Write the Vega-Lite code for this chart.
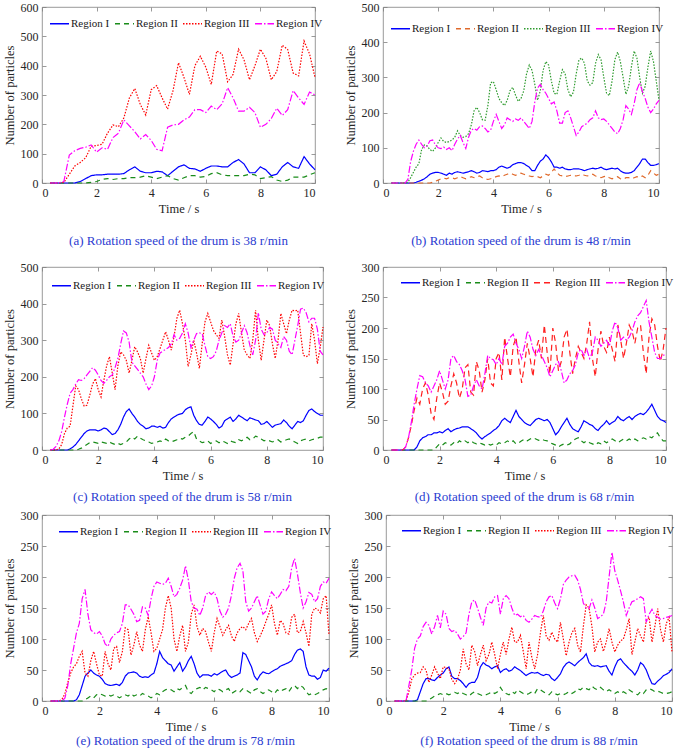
{
"$schema": "https://vega.github.io/schema/vega-lite/v6.json",
"padding": {"left": 2, "top": 0, "right": 0, "bottom": 0},
"background": "white",
"config": {
  "font": "Liberation Serif",
  "view": {"stroke": "#808080", "strokeWidth": 0.8},
  "axis": {"grid": false, "domain": false, "tickColor": "#808080", "tickSize": -4, "tickWidth": 0.8, "labelPadding": 8, "labelFont": "Liberation Serif", "labelFontSize": 12, "labelColor": "#262626", "titleFont": "Liberation Serif", "titleFontSize": 12.5, "titleFontWeight": "normal", "titleColor": "#262626", "titlePadding": 4},
  "legend": {"symbolType": "stroke", "symbolSize": 361, "symbolStrokeWidth": 1.3, "labelFont": "Liberation Serif", "labelFontSize": 11, "labelOffset": 1, "columnPadding": 2, "padding": 0, "labelColor": "#1a1a1a"},
  "title": {"font": "Liberation Serif", "fontSize": 13, "fontWeight": "normal", "color": "#2a3bd1", "orient": "bottom", "anchor": "middle"},
  "concat": {"spacing": 20}
},
"datasets": {
"a": [
{"t":0.3,"I":0,"II":0,"III":0,"IV":0},{"t":0.4,"I":0,"II":0,"III":0,"IV":0},{"t":0.6,"I":0,"II":0,"III":0,"IV":0},{"t":0.8,"I":0,"II":0,"III":2,"IV":5},
{"t":1.0,"I":0,"II":0,"III":30,"IV":95},{"t":1.2,"I":0,"II":0,"III":58,"IV":110},{"t":1.4,"I":5,"II":0,"III":70,"IV":118},{"t":1.6,"I":15,"II":0,"III":86,"IV":122},
{"t":1.8,"I":25,"II":2,"III":125,"IV":130},{"t":2.0,"I":28,"II":5,"III":128,"IV":105},{"t":2.2,"I":28,"II":12,"III":132,"IV":120},{"t":2.4,"I":30,"II":15,"III":170,"IV":115},
{"t":2.6,"I":30,"II":12,"III":198,"IV":155},{"t":2.8,"I":30,"II":15,"III":192,"IV":170},{"t":3.0,"I":32,"II":15,"III":222,"IV":215},{"t":3.2,"I":45,"II":18,"III":290,"IV":195},
{"t":3.4,"I":55,"II":18,"III":322,"IV":175},{"t":3.6,"I":40,"II":20,"III":268,"IV":150},{"t":3.8,"I":35,"II":25,"III":232,"IV":165},{"t":4.0,"I":35,"II":20,"III":318,"IV":145},
{"t":4.2,"I":40,"II":15,"III":332,"IV":115},{"t":4.4,"I":38,"II":20,"III":290,"IV":110},{"t":4.6,"I":25,"II":25,"III":252,"IV":190},{"t":4.8,"I":40,"II":15,"III":315,"IV":198},
{"t":5.0,"I":55,"II":10,"III":410,"IV":200},{"t":5.2,"I":62,"II":18,"III":360,"IV":215},{"t":5.4,"I":50,"II":25,"III":302,"IV":225},{"t":5.6,"I":48,"II":25,"III":400,"IV":250},
{"t":5.8,"I":40,"II":20,"III":432,"IV":250},{"t":6.0,"I":50,"II":22,"III":395,"IV":240},{"t":6.2,"I":58,"II":32,"III":336,"IV":262},{"t":6.4,"I":58,"II":35,"III":450,"IV":250},
{"t":6.6,"I":55,"II":28,"III":440,"IV":270},{"t":6.8,"I":55,"II":25,"III":345,"IV":325},{"t":7.0,"I":70,"II":25,"III":370,"IV":290},{"t":7.2,"I":80,"II":25,"III":456,"IV":245},
{"t":7.4,"I":65,"II":25,"III":420,"IV":245},{"t":7.6,"I":35,"II":30,"III":352,"IV":258},{"t":7.8,"I":35,"II":28,"III":400,"IV":240},{"t":8.0,"I":55,"II":15,"III":456,"IV":190},
{"t":8.2,"I":45,"II":18,"III":425,"IV":200},{"t":8.4,"I":25,"II":22,"III":352,"IV":220},{"t":8.6,"I":30,"II":10,"III":380,"IV":255},{"t":8.8,"I":55,"II":5,"III":470,"IV":230},
{"t":9.0,"I":70,"II":10,"III":455,"IV":250},{"t":9.2,"I":55,"II":20,"III":375,"IV":315},{"t":9.4,"I":50,"II":20,"III":365,"IV":290},{"t":9.6,"I":90,"II":20,"III":484,"IV":268},
{"t":9.8,"I":65,"II":28,"III":440,"IV":310},{"t":10.0,"I":45,"II":35,"III":360,"IV":300}
],
"b": [
{"t":0.3,"I":0,"II":0,"III":0,"IV":0},{"t":0.4,"I":0,"II":0,"III":0,"IV":0},{"t":0.5,"I":0,"II":0,"III":0,"IV":0},{"t":0.6,"I":0,"II":0,"III":0,"IV":0},
{"t":0.7,"I":0,"II":0,"III":0,"IV":0},{"t":0.8,"I":0,"II":0,"III":0,"IV":0},{"t":0.9,"I":0,"II":0,"III":2,"IV":10},{"t":1.0,"I":0,"II":0,"III":15,"IV":60},
{"t":1.1,"I":0,"II":0,"III":30,"IV":90},{"t":1.2,"I":2,"II":0,"III":45,"IV":110},{"t":1.3,"I":5,"II":0,"III":55,"IV":122},{"t":1.4,"I":8,"II":0,"III":95,"IV":110},
{"t":1.5,"I":12,"II":0,"III":108,"IV":100},{"t":1.6,"I":18,"II":0,"III":105,"IV":105},{"t":1.7,"I":25,"II":0,"III":95,"IV":120},{"t":1.8,"I":28,"II":2,"III":90,"IV":122},
{"t":1.9,"I":30,"II":5,"III":100,"IV":108},{"t":2.0,"I":30,"II":8,"III":115,"IV":100},{"t":2.1,"I":28,"II":12,"III":128,"IV":98},{"t":2.2,"I":25,"II":14,"III":118,"IV":102},
{"t":2.3,"I":22,"II":12,"III":115,"IV":95},{"t":2.4,"I":28,"II":15,"III":118,"IV":100},{"t":2.5,"I":25,"II":15,"III":122,"IV":92},{"t":2.6,"I":30,"II":12,"III":130,"IV":110},
{"t":2.7,"I":32,"II":15,"III":148,"IV":125},{"t":2.8,"I":30,"II":18,"III":135,"IV":135},{"t":2.9,"I":28,"II":15,"III":130,"IV":115},{"t":3.0,"I":30,"II":12,"III":132,"IV":98},
{"t":3.1,"I":32,"II":15,"III":140,"IV":130},{"t":3.2,"I":35,"II":18,"III":165,"IV":150},{"t":3.3,"I":32,"II":15,"III":205,"IV":155},{"t":3.4,"I":28,"II":18,"III":215,"IV":150},
{"t":3.5,"I":30,"II":20,"III":200,"IV":160},{"t":3.6,"I":35,"II":15,"III":180,"IV":162},{"t":3.7,"I":34,"II":12,"III":178,"IV":155},{"t":3.8,"I":32,"II":10,"III":220,"IV":145},
{"t":3.9,"I":35,"II":12,"III":285,"IV":150},{"t":4.0,"I":35,"II":15,"III":288,"IV":175},{"t":4.1,"I":38,"II":18,"III":265,"IV":195},{"t":4.2,"I":45,"II":20,"III":240,"IV":175},
{"t":4.3,"I":48,"II":18,"III":228,"IV":155},{"t":4.4,"I":45,"II":22,"III":220,"IV":165},{"t":4.5,"I":42,"II":25,"III":235,"IV":185},{"t":4.6,"I":45,"II":28,"III":262,"IV":180},
{"t":4.7,"I":52,"II":25,"III":272,"IV":175},{"t":4.8,"I":55,"II":22,"III":250,"IV":182},{"t":4.9,"I":58,"II":25,"III":232,"IV":178},{"t":5.0,"I":58,"II":28,"III":240,"IV":185},
{"t":5.1,"I":55,"II":25,"III":262,"IV":175},{"t":5.2,"I":50,"II":22,"III":310,"IV":165},{"t":5.3,"I":45,"II":20,"III":335,"IV":155},{"t":5.4,"I":35,"II":18,"III":320,"IV":175},
{"t":5.5,"I":35,"II":20,"III":280,"IV":230},{"t":5.6,"I":50,"II":18,"III":235,"IV":270},{"t":5.7,"I":62,"II":15,"III":262,"IV":280},{"t":5.8,"I":68,"II":20,"III":320,"IV":265},
{"t":5.9,"I":80,"II":25,"III":345,"IV":255},{"t":6.0,"I":72,"II":22,"III":335,"IV":240},{"t":6.1,"I":60,"II":30,"III":290,"IV":225},{"t":6.2,"I":45,"II":40,"III":255,"IV":230},
{"t":6.3,"I":45,"II":30,"III":252,"IV":205},{"t":6.4,"I":42,"II":22,"III":290,"IV":170},{"t":6.5,"I":45,"II":20,"III":322,"IV":170},{"t":6.6,"I":40,"II":18,"III":310,"IV":200},
{"t":6.7,"I":38,"II":20,"III":265,"IV":205},{"t":6.8,"I":38,"II":22,"III":245,"IV":185},{"t":6.9,"I":40,"II":20,"III":258,"IV":160},{"t":7.0,"I":40,"II":20,"III":310,"IV":135},
{"t":7.1,"I":40,"II":22,"III":350,"IV":145},{"t":7.2,"I":38,"II":25,"III":355,"IV":160},{"t":7.3,"I":35,"II":22,"III":340,"IV":165},{"t":7.4,"I":38,"II":20,"III":290,"IV":170},
{"t":7.5,"I":40,"II":22,"III":278,"IV":180},{"t":7.6,"I":42,"II":25,"III":285,"IV":185},{"t":7.7,"I":40,"II":20,"III":340,"IV":205},{"t":7.8,"I":42,"II":18,"III":365,"IV":185},
{"t":7.9,"I":45,"II":15,"III":350,"IV":180},{"t":8.0,"I":40,"II":18,"III":300,"IV":182},{"t":8.1,"I":38,"II":20,"III":255,"IV":175},{"t":8.2,"I":40,"II":15,"III":248,"IV":165},
{"t":8.3,"I":42,"II":12,"III":290,"IV":155},{"t":8.4,"I":40,"II":15,"III":350,"IV":145},{"t":8.5,"I":42,"II":18,"III":372,"IV":140},{"t":8.6,"I":35,"II":12,"III":345,"IV":155},
{"t":8.7,"I":30,"II":10,"III":300,"IV":180},{"t":8.8,"I":28,"II":15,"III":252,"IV":220},{"t":8.9,"I":28,"II":15,"III":275,"IV":210},{"t":9.0,"I":30,"II":12,"III":330,"IV":195},
{"t":9.1,"I":35,"II":15,"III":375,"IV":225},{"t":9.2,"I":45,"II":18,"III":355,"IV":265},{"t":9.3,"I":55,"II":15,"III":300,"IV":285},{"t":9.4,"I":68,"II":20,"III":255,"IV":260},
{"t":9.5,"I":68,"II":15,"III":275,"IV":240},{"t":9.6,"I":58,"II":22,"III":330,"IV":215},{"t":9.7,"I":50,"II":35,"III":375,"IV":200},{"t":9.8,"I":50,"II":28,"III":345,"IV":210},
{"t":9.9,"I":52,"II":22,"III":290,"IV":225},{"t":10.0,"I":55,"II":25,"III":235,"IV":235}
],
"c": [
{"t":0.3,"I":0,"II":0,"III":0,"IV":0},{"t":0.4,"I":0,"II":0,"III":0,"IV":2},{"t":0.5,"I":0,"II":0,"III":0,"IV":10},{"t":0.6,"I":0,"II":0,"III":3,"IV":25},
{"t":0.7,"I":0,"II":0,"III":15,"IV":50},{"t":0.8,"I":0,"II":0,"III":45,"IV":90},{"t":0.9,"I":0,"II":0,"III":60,"IV":125},{"t":1.0,"I":3,"II":0,"III":65,"IV":155},
{"t":1.1,"I":8,"II":0,"III":120,"IV":165},{"t":1.2,"I":15,"II":0,"III":175,"IV":180},{"t":1.3,"I":25,"II":2,"III":165,"IV":192},{"t":1.4,"I":35,"II":5,"III":140,"IV":190},
{"t":1.5,"I":45,"II":10,"III":120,"IV":195},{"t":1.6,"I":52,"II":15,"III":122,"IV":205},{"t":1.7,"I":55,"II":20,"III":150,"IV":215},{"t":1.8,"I":55,"II":22,"III":180,"IV":225},
{"t":1.9,"I":55,"II":20,"III":195,"IV":218},{"t":2.0,"I":52,"II":18,"III":165,"IV":205},{"t":2.1,"I":55,"II":22,"III":145,"IV":190},{"t":2.2,"I":60,"II":20,"III":190,"IV":182},
{"t":2.3,"I":58,"II":18,"III":230,"IV":190},{"t":2.4,"I":50,"II":22,"III":255,"IV":200},{"t":2.5,"I":42,"II":18,"III":210,"IV":205},{"t":2.6,"I":45,"II":15,"III":165,"IV":225},
{"t":2.7,"I":55,"II":18,"III":230,"IV":250},{"t":2.8,"I":70,"II":15,"III":268,"IV":290},{"t":2.9,"I":90,"II":18,"III":260,"IV":325},{"t":3.0,"I":105,"II":22,"III":245,"IV":320},
{"t":3.1,"I":112,"II":30,"III":210,"IV":295},{"t":3.2,"I":100,"II":35,"III":245,"IV":240},{"t":3.3,"I":90,"II":30,"III":282,"IV":230},{"t":3.4,"I":78,"II":38,"III":268,"IV":220},
{"t":3.5,"I":70,"II":32,"III":250,"IV":210},{"t":3.6,"I":65,"II":28,"III":210,"IV":200},{"t":3.7,"I":58,"II":25,"III":250,"IV":180},{"t":3.8,"I":60,"II":22,"III":286,"IV":165},
{"t":3.9,"I":65,"II":18,"III":265,"IV":175},{"t":4.0,"I":65,"II":20,"III":245,"IV":200},{"t":4.1,"I":62,"II":22,"III":255,"IV":245},{"t":4.2,"I":65,"II":25,"III":277,"IV":265},
{"t":4.3,"I":60,"II":22,"III":300,"IV":270},{"t":4.4,"I":62,"II":30,"III":323,"IV":275},{"t":4.5,"I":75,"II":25,"III":300,"IV":280},{"t":4.6,"I":85,"II":22,"III":273,"IV":290},
{"t":4.7,"I":90,"II":25,"III":310,"IV":315},{"t":4.8,"I":95,"II":28,"III":360,"IV":300},{"t":4.9,"I":98,"II":32,"III":382,"IV":305},{"t":5.0,"I":100,"II":30,"III":345,"IV":320},
{"t":5.1,"I":110,"II":35,"III":300,"IV":345},{"t":5.2,"I":115,"II":38,"III":228,"IV":320},{"t":5.3,"I":118,"II":45,"III":260,"IV":280},{"t":5.4,"I":95,"II":50,"III":300,"IV":300},
{"t":5.5,"I":80,"II":30,"III":265,"IV":318},{"t":5.6,"I":70,"II":25,"III":223,"IV":320},{"t":5.7,"I":68,"II":20,"III":290,"IV":318},{"t":5.8,"I":78,"II":22,"III":350,"IV":285},
{"t":5.9,"I":90,"II":25,"III":373,"IV":255},{"t":6.0,"I":85,"II":18,"III":350,"IV":250},{"t":6.1,"I":78,"II":22,"III":327,"IV":255},{"t":6.2,"I":70,"II":25,"III":315,"IV":270},
{"t":6.3,"I":60,"II":20,"III":305,"IV":300},{"t":6.4,"I":65,"II":25,"III":355,"IV":320},{"t":6.5,"I":80,"II":22,"III":310,"IV":340},{"t":6.6,"I":85,"II":18,"III":260,"IV":335},
{"t":6.7,"I":90,"II":25,"III":232,"IV":345},{"t":6.8,"I":78,"II":22,"III":290,"IV":310},{"t":6.9,"I":85,"II":20,"III":345,"IV":295},{"t":7.0,"I":95,"II":28,"III":373,"IV":300},
{"t":7.1,"I":90,"II":25,"III":320,"IV":320},{"t":7.2,"I":85,"II":30,"III":273,"IV":340},{"t":7.3,"I":80,"II":35,"III":260,"IV":320},{"t":7.4,"I":88,"II":28,"III":250,"IV":285},
{"t":7.5,"I":85,"II":30,"III":300,"IV":260},{"t":7.6,"I":82,"II":38,"III":382,"IV":300},{"t":7.7,"I":80,"II":35,"III":300,"IV":375},{"t":7.8,"I":70,"II":30,"III":245,"IV":330},
{"t":7.9,"I":72,"II":25,"III":300,"IV":315},{"t":8.0,"I":78,"II":28,"III":355,"IV":320},{"t":8.1,"I":70,"II":25,"III":340,"IV":335},{"t":8.2,"I":62,"II":22,"III":290,"IV":330},
{"t":8.3,"I":68,"II":25,"III":250,"IV":300},{"t":8.4,"I":70,"II":28,"III":300,"IV":290},{"t":8.5,"I":72,"II":22,"III":373,"IV":280},{"t":8.6,"I":82,"II":25,"III":345,"IV":310},
{"t":8.7,"I":75,"II":28,"III":318,"IV":300},{"t":8.8,"I":65,"II":30,"III":355,"IV":270},{"t":8.9,"I":58,"II":25,"III":382,"IV":260},{"t":9.0,"I":68,"II":22,"III":380,"IV":300},
{"t":9.1,"I":78,"II":18,"III":382,"IV":340},{"t":9.2,"I":75,"II":25,"III":320,"IV":385},{"t":9.3,"I":80,"II":28,"III":259,"IV":388},{"t":9.4,"I":95,"II":30,"III":255,"IV":375},
{"t":9.5,"I":108,"II":25,"III":259,"IV":350},{"t":9.6,"I":112,"II":28,"III":345,"IV":360},{"t":9.7,"I":105,"II":30,"III":300,"IV":360},{"t":9.8,"I":100,"II":32,"III":236,"IV":330},
{"t":9.9,"I":95,"II":35,"III":280,"IV":270},{"t":10.0,"I":95,"II":35,"III":336,"IV":260}
],
"d": [
{"t":0.3,"I":0,"II":0,"III":0,"IV":0},{"t":0.4,"I":0,"II":0,"III":0,"IV":0},{"t":0.5,"I":0,"II":0,"III":0,"IV":0},{"t":0.6,"I":0,"II":0,"III":0,"IV":0},
{"t":0.7,"I":0,"II":0,"III":0,"IV":0},{"t":0.8,"I":0,"II":0,"III":5,"IV":5},{"t":0.9,"I":0,"II":0,"III":20,"IV":20},{"t":1.0,"I":0,"II":0,"III":40,"IV":45},
{"t":1.1,"I":0,"II":0,"III":65,"IV":75},{"t":1.2,"I":5,"II":0,"III":85,"IV":100},{"t":1.3,"I":15,"II":0,"III":75,"IV":122},{"t":1.4,"I":20,"II":0,"III":100,"IV":120},
{"t":1.5,"I":22,"II":0,"III":110,"IV":110},{"t":1.6,"I":25,"II":0,"III":90,"IV":105},{"t":1.7,"I":25,"II":0,"III":60,"IV":95},{"t":1.8,"I":28,"II":0,"III":50,"IV":105},
{"t":1.9,"I":28,"II":5,"III":85,"IV":115},{"t":2.0,"I":30,"II":10,"III":110,"IV":130},{"t":2.1,"I":28,"II":8,"III":95,"IV":115},{"t":2.2,"I":32,"II":12,"III":75,"IV":100},
{"t":2.3,"I":35,"II":10,"III":80,"IV":115},{"t":2.4,"I":30,"II":8,"III":105,"IV":150},{"t":2.5,"I":33,"II":12,"III":125,"IV":155},{"t":2.6,"I":35,"II":10,"III":110,"IV":145},
{"t":2.7,"I":36,"II":15,"III":85,"IV":140},{"t":2.8,"I":38,"II":12,"III":100,"IV":130},{"t":2.9,"I":38,"II":15,"III":135,"IV":115},{"t":3.0,"I":38,"II":12,"III":140,"IV":88},
{"t":3.1,"I":35,"II":15,"III":95,"IV":90},{"t":3.2,"I":32,"II":12,"III":90,"IV":105},{"t":3.3,"I":28,"II":10,"III":145,"IV":115},{"t":3.4,"I":22,"II":12,"III":130,"IV":105},
{"t":3.5,"I":18,"II":10,"III":95,"IV":100},{"t":3.6,"I":22,"II":8,"III":115,"IV":125},{"t":3.7,"I":25,"II":10,"III":150,"IV":155},{"t":3.8,"I":28,"II":8,"III":110,"IV":150},
{"t":3.9,"I":32,"II":10,"III":105,"IV":148},{"t":4.0,"I":35,"II":8,"III":150,"IV":140},{"t":4.1,"I":40,"II":12,"III":160,"IV":150},{"t":4.2,"I":48,"II":10,"III":115,"IV":140},
{"t":4.3,"I":52,"II":12,"III":185,"IV":170},{"t":4.4,"I":48,"II":15,"III":150,"IV":175},{"t":4.5,"I":45,"II":12,"III":120,"IV":185},{"t":4.6,"I":55,"II":15,"III":170,"IV":190},
{"t":4.7,"I":65,"II":10,"III":185,"IV":175},{"t":4.8,"I":55,"II":12,"III":145,"IV":165},{"t":4.9,"I":50,"II":15,"III":110,"IV":150},{"t":5.0,"I":45,"II":18,"III":140,"IV":170},
{"t":5.1,"I":42,"II":15,"III":175,"IV":195},{"t":5.2,"I":40,"II":18,"III":150,"IV":185},{"t":5.3,"I":45,"II":20,"III":120,"IV":165},{"t":5.4,"I":50,"II":18,"III":165,"IV":155},
{"t":5.5,"I":52,"II":16,"III":180,"IV":165},{"t":5.6,"I":50,"II":18,"III":150,"IV":155},{"t":5.7,"I":48,"II":16,"III":205,"IV":145},{"t":5.8,"I":50,"II":15,"III":160,"IV":135},
{"t":5.9,"I":45,"II":12,"III":125,"IV":120},{"t":6.0,"I":35,"II":10,"III":200,"IV":130},{"t":6.1,"I":25,"II":8,"III":175,"IV":140},{"t":6.2,"I":30,"II":5,"III":130,"IV":145},
{"t":6.3,"I":38,"II":8,"III":145,"IV":130},{"t":6.4,"I":45,"II":10,"III":185,"IV":110},{"t":6.5,"I":52,"II":8,"III":198,"IV":115},{"t":6.6,"I":42,"II":10,"III":160,"IV":125},
{"t":6.7,"I":35,"II":15,"III":125,"IV":130},{"t":6.8,"I":32,"II":18,"III":150,"IV":140},{"t":6.9,"I":30,"II":20,"III":170,"IV":160},{"t":7.0,"I":38,"II":15,"III":160,"IV":165},
{"t":7.1,"I":48,"II":12,"III":150,"IV":155},{"t":7.2,"I":45,"II":15,"III":175,"IV":165},{"t":7.3,"I":42,"II":12,"III":210,"IV":150},{"t":7.4,"I":40,"II":10,"III":150,"IV":160},
{"t":7.5,"I":35,"II":8,"III":120,"IV":185},{"t":7.6,"I":32,"II":12,"III":165,"IV":180},{"t":7.7,"I":38,"II":10,"III":195,"IV":170},{"t":7.8,"I":42,"II":15,"III":170,"IV":175},
{"t":7.9,"I":48,"II":12,"III":160,"IV":180},{"t":8.0,"I":42,"II":15,"III":185,"IV":170},{"t":8.1,"I":45,"II":18,"III":165,"IV":195},{"t":8.2,"I":48,"II":15,"III":145,"IV":210},
{"t":8.3,"I":55,"II":12,"III":205,"IV":200},{"t":8.4,"I":50,"II":15,"III":180,"IV":180},{"t":8.5,"I":48,"II":18,"III":150,"IV":185},{"t":8.6,"I":52,"II":15,"III":175,"IV":180},
{"t":8.7,"I":55,"II":18,"III":205,"IV":185},{"t":8.8,"I":50,"II":15,"III":195,"IV":195},{"t":8.9,"I":55,"II":18,"III":175,"IV":210},{"t":9.0,"I":58,"II":15,"III":200,"IV":220},
{"t":9.1,"I":60,"II":18,"III":205,"IV":225},{"t":9.2,"I":58,"II":20,"III":160,"IV":235},{"t":9.3,"I":62,"II":18,"III":125,"IV":245},{"t":9.4,"I":68,"II":22,"III":185,"IV":210},
{"t":9.5,"I":75,"II":20,"III":215,"IV":185},{"t":9.6,"I":65,"II":25,"III":205,"IV":160},{"t":9.7,"I":55,"II":28,"III":170,"IV":150},{"t":9.8,"I":50,"II":20,"III":145,"IV":150},
{"t":9.9,"I":48,"II":15,"III":165,"IV":155},{"t":10.0,"I":45,"II":15,"III":200,"IV":158}
],
"e": [
{"t":0.3,"I":0,"II":0,"III":0,"IV":0},{"t":0.4,"I":0,"II":0,"III":0,"IV":0},{"t":0.5,"I":0,"II":0,"III":0,"IV":0},{"t":0.6,"I":0,"II":0,"III":0,"IV":0},
{"t":0.7,"I":0,"II":0,"III":3,"IV":0},{"t":0.8,"I":0,"II":0,"III":12,"IV":5},{"t":0.9,"I":0,"II":0,"III":30,"IV":25},{"t":1.0,"I":0,"II":0,"III":45,"IV":60},
{"t":1.1,"I":0,"II":0,"III":55,"IV":85},{"t":1.2,"I":2,"II":0,"III":60,"IV":110},{"t":1.3,"I":10,"II":0,"III":72,"IV":125},{"t":1.4,"I":25,"II":0,"III":80,"IV":165},
{"t":1.5,"I":40,"II":2,"III":45,"IV":180},{"t":1.6,"I":45,"II":5,"III":40,"IV":140},{"t":1.7,"I":50,"II":8,"III":65,"IV":115},{"t":1.8,"I":45,"II":5,"III":80,"IV":110},
{"t":1.9,"I":42,"II":10,"III":60,"IV":108},{"t":2.0,"I":40,"II":12,"III":42,"IV":112},{"t":2.1,"I":35,"II":10,"III":40,"IV":105},{"t":2.2,"I":28,"II":8,"III":80,"IV":92},
{"t":2.3,"I":26,"II":10,"III":60,"IV":88},{"t":2.4,"I":25,"II":8,"III":50,"IV":100},{"t":2.5,"I":26,"II":10,"III":85,"IV":106},{"t":2.6,"I":27,"II":8,"III":88,"IV":110},
{"t":2.7,"I":25,"II":5,"III":62,"IV":112},{"t":2.8,"I":30,"II":8,"III":80,"IV":125},{"t":2.9,"I":40,"II":10,"III":118,"IV":155},{"t":3.0,"I":45,"II":8,"III":115,"IV":155},
{"t":3.1,"I":46,"II":12,"III":74,"IV":148},{"t":3.2,"I":47,"II":8,"III":90,"IV":140},{"t":3.3,"I":45,"II":10,"III":112,"IV":128},{"t":3.4,"I":40,"II":8,"III":90,"IV":130},
{"t":3.5,"I":38,"II":12,"III":80,"IV":152},{"t":3.6,"I":39,"II":10,"III":115,"IV":150},{"t":3.7,"I":38,"II":8,"III":136,"IV":138},{"t":3.8,"I":42,"II":5,"III":110,"IV":165},
{"t":3.9,"I":45,"II":8,"III":80,"IV":185},{"t":4.0,"I":60,"II":12,"III":85,"IV":192},{"t":4.1,"I":80,"II":10,"III":100,"IV":190},{"t":4.2,"I":70,"II":15,"III":115,"IV":188},
{"t":4.3,"I":65,"II":18,"III":150,"IV":190},{"t":4.4,"I":60,"II":20,"III":170,"IV":198},{"t":4.5,"I":58,"II":18,"III":150,"IV":185},{"t":4.6,"I":48,"II":15,"III":100,"IV":168},
{"t":4.7,"I":55,"II":20,"III":80,"IV":172},{"t":4.8,"I":62,"II":18,"III":105,"IV":182},{"t":4.9,"I":48,"II":22,"III":122,"IV":195},{"t":5.0,"I":55,"II":25,"III":80,"IV":218},
{"t":5.1,"I":65,"II":15,"III":95,"IV":195},{"t":5.2,"I":72,"II":12,"III":140,"IV":160},{"t":5.3,"I":60,"II":18,"III":155,"IV":150},{"t":5.4,"I":45,"II":20,"III":120,"IV":148},
{"t":5.5,"I":38,"II":22,"III":106,"IV":138},{"t":5.6,"I":42,"II":18,"III":117,"IV":150},{"t":5.7,"I":42,"II":22,"III":112,"IV":170},{"t":5.8,"I":42,"II":20,"III":95,"IV":176},
{"t":5.9,"I":40,"II":18,"III":80,"IV":172},{"t":6.0,"I":44,"II":15,"III":110,"IV":176},{"t":6.1,"I":42,"II":20,"III":133,"IV":165},{"t":6.2,"I":45,"II":18,"III":120,"IV":145},
{"t":6.3,"I":48,"II":15,"III":106,"IV":135},{"t":6.4,"I":50,"II":18,"III":115,"IV":140},{"t":6.5,"I":42,"II":20,"III":122,"IV":150},{"t":6.6,"I":38,"II":12,"III":105,"IV":170},
{"t":6.7,"I":40,"II":15,"III":96,"IV":198},{"t":6.8,"I":42,"II":18,"III":110,"IV":215},{"t":6.9,"I":45,"II":15,"III":117,"IV":222},{"t":7.0,"I":78,"II":20,"III":120,"IV":210},
{"t":7.1,"I":75,"II":18,"III":115,"IV":160},{"t":7.2,"I":65,"II":15,"III":125,"IV":145},{"t":7.3,"I":55,"II":12,"III":133,"IV":150},{"t":7.4,"I":40,"II":18,"III":110,"IV":160},
{"t":7.5,"I":34,"II":20,"III":96,"IV":170},{"t":7.6,"I":42,"II":15,"III":105,"IV":155},{"t":7.7,"I":47,"II":12,"III":115,"IV":140},{"t":7.8,"I":45,"II":15,"III":128,"IV":145},
{"t":7.9,"I":44,"II":18,"III":140,"IV":165},{"t":8.0,"I":47,"II":15,"III":155,"IV":176},{"t":8.1,"I":50,"II":12,"III":125,"IV":170},{"t":8.2,"I":52,"II":18,"III":106,"IV":165},
{"t":8.3,"I":56,"II":15,"III":130,"IV":172},{"t":8.4,"I":58,"II":18,"III":125,"IV":180},{"t":8.5,"I":60,"II":20,"III":110,"IV":178},{"t":8.6,"I":62,"II":15,"III":108,"IV":185},
{"t":8.7,"I":65,"II":22,"III":135,"IV":215},{"t":8.8,"I":75,"II":25,"III":140,"IV":230},{"t":8.9,"I":82,"II":20,"III":110,"IV":205},{"t":9.0,"I":84,"II":25,"III":112,"IV":175},
{"t":9.1,"I":80,"II":22,"III":128,"IV":150},{"t":9.2,"I":55,"II":15,"III":110,"IV":160},{"t":9.3,"I":42,"II":10,"III":88,"IV":175},{"t":9.4,"I":40,"II":12,"III":140,"IV":172},
{"t":9.5,"I":40,"II":10,"III":150,"IV":160},{"t":9.6,"I":35,"II":12,"III":148,"IV":165},{"t":9.7,"I":38,"II":15,"III":142,"IV":185},{"t":9.8,"I":50,"II":18,"III":165,"IV":192},
{"t":9.9,"I":48,"II":20,"III":170,"IV":190},{"t":10.0,"I":53,"II":18,"III":106,"IV":198}
],
"f": [
{"t":0.3,"I":0,"II":0,"III":0,"IV":0},{"t":0.4,"I":0,"II":0,"III":0,"IV":0},{"t":0.5,"I":0,"II":0,"III":0,"IV":0},{"t":0.6,"I":0,"II":0,"III":0,"IV":0},
{"t":0.7,"I":0,"II":0,"III":0,"IV":0},{"t":0.8,"I":0,"II":0,"III":15,"IV":25},{"t":0.9,"I":0,"II":0,"III":35,"IV":50},{"t":1.0,"I":0,"II":0,"III":42,"IV":85},
{"t":1.1,"I":2,"II":0,"III":45,"IV":100},{"t":1.2,"I":15,"II":0,"III":46,"IV":105},{"t":1.3,"I":28,"II":0,"III":55,"IV":120},{"t":1.4,"I":36,"II":0,"III":50,"IV":127},
{"t":1.5,"I":36,"II":2,"III":30,"IV":122},{"t":1.6,"I":34,"II":5,"III":42,"IV":108},{"t":1.7,"I":33,"II":8,"III":55,"IV":120},{"t":1.8,"I":38,"II":10,"III":45,"IV":138},
{"t":1.9,"I":42,"II":12,"III":36,"IV":118},{"t":2.0,"I":45,"II":10,"III":55,"IV":145},{"t":2.1,"I":52,"II":12,"III":54,"IV":140},{"t":2.2,"I":55,"II":10,"III":52,"IV":117},
{"t":2.3,"I":40,"II":12,"III":35,"IV":112},{"t":2.4,"I":36,"II":14,"III":28,"IV":114},{"t":2.5,"I":36,"II":12,"III":35,"IV":108},{"t":2.6,"I":33,"II":15,"III":50,"IV":100},
{"t":2.7,"I":28,"II":12,"III":84,"IV":104},{"t":2.8,"I":22,"II":10,"III":60,"IV":110},{"t":2.9,"I":28,"II":8,"III":50,"IV":140},{"t":3.0,"I":30,"II":12,"III":90,"IV":160},
{"t":3.1,"I":30,"II":15,"III":80,"IV":163},{"t":3.2,"I":38,"II":12,"III":57,"IV":150},{"t":3.3,"I":55,"II":10,"III":75,"IV":135},{"t":3.4,"I":62,"II":8,"III":90,"IV":122},
{"t":3.5,"I":58,"II":10,"III":65,"IV":150},{"t":3.6,"I":56,"II":12,"III":75,"IV":160},{"t":3.7,"I":52,"II":15,"III":95,"IV":158},{"t":3.8,"I":55,"II":12,"III":75,"IV":168},
{"t":3.9,"I":57,"II":15,"III":52,"IV":170},{"t":4.0,"I":46,"II":22,"III":75,"IV":140},{"t":4.1,"I":50,"II":15,"III":95,"IV":165},{"t":4.2,"I":52,"II":12,"III":75,"IV":170},
{"t":4.3,"I":48,"II":10,"III":100,"IV":165},{"t":4.4,"I":50,"II":15,"III":119,"IV":150},{"t":4.5,"I":55,"II":12,"III":95,"IV":138},{"t":4.6,"I":52,"II":18,"III":95,"IV":140},
{"t":4.7,"I":49,"II":15,"III":106,"IV":136},{"t":4.8,"I":45,"II":12,"III":80,"IV":138},{"t":4.9,"I":41,"II":10,"III":52,"IV":130},{"t":5.0,"I":44,"II":12,"III":95,"IV":127},
{"t":5.1,"I":46,"II":15,"III":70,"IV":132},{"t":5.2,"I":45,"II":12,"III":52,"IV":138},{"t":5.3,"I":46,"II":20,"III":75,"IV":136},{"t":5.4,"I":43,"II":18,"III":110,"IV":135},
{"t":5.5,"I":41,"II":15,"III":138,"IV":145},{"t":5.6,"I":43,"II":12,"III":105,"IV":160},{"t":5.7,"I":42,"II":10,"III":98,"IV":168},{"t":5.8,"I":36,"II":15,"III":111,"IV":170},
{"t":5.9,"I":33,"II":12,"III":100,"IV":158},{"t":6.0,"I":38,"II":10,"III":95,"IV":149},{"t":6.1,"I":44,"II":12,"III":127,"IV":165},{"t":6.2,"I":54,"II":10,"III":100,"IV":188},
{"t":6.3,"I":60,"II":12,"III":73,"IV":195},{"t":6.4,"I":63,"II":15,"III":95,"IV":200},{"t":6.5,"I":60,"II":12,"III":110,"IV":202},{"t":6.6,"I":57,"II":15,"III":117,"IV":203},
{"t":6.7,"I":62,"II":20,"III":90,"IV":195},{"t":6.8,"I":66,"II":18,"III":79,"IV":180},{"t":6.9,"I":70,"II":22,"III":120,"IV":158},{"t":7.0,"I":76,"II":20,"III":155,"IV":150},
{"t":7.1,"I":62,"II":18,"III":150,"IV":149},{"t":7.2,"I":57,"II":24,"III":120,"IV":163},{"t":7.3,"I":56,"II":20,"III":79,"IV":150},{"t":7.4,"I":57,"II":18,"III":95,"IV":133},
{"t":7.5,"I":55,"II":22,"III":100,"IV":136},{"t":7.6,"I":56,"II":18,"III":80,"IV":140},{"t":7.7,"I":57,"II":15,"III":95,"IV":160},{"t":7.8,"I":48,"II":18,"III":117,"IV":200},
{"t":7.9,"I":42,"II":15,"III":95,"IV":240},{"t":8.0,"I":55,"II":12,"III":79,"IV":210},{"t":8.1,"I":65,"II":15,"III":90,"IV":195},{"t":8.2,"I":68,"II":12,"III":97,"IV":178},
{"t":8.3,"I":62,"II":15,"III":100,"IV":160},{"t":8.4,"I":57,"II":12,"III":115,"IV":138},{"t":8.5,"I":52,"II":18,"III":133,"IV":150},{"t":8.6,"I":48,"II":15,"III":75,"IV":160},
{"t":8.7,"I":42,"II":12,"III":95,"IV":162},{"t":8.8,"I":50,"II":10,"III":117,"IV":165},{"t":8.9,"I":62,"II":15,"III":105,"IV":168},{"t":9.0,"I":58,"II":12,"III":95,"IV":165},
{"t":9.1,"I":50,"II":18,"III":130,"IV":127},{"t":9.2,"I":38,"II":20,"III":135,"IV":140},{"t":9.3,"I":28,"II":18,"III":95,"IV":148},{"t":9.4,"I":27,"II":15,"III":120,"IV":138},
{"t":9.5,"I":32,"II":16,"III":149,"IV":135},{"t":9.6,"I":36,"II":14,"III":115,"IV":132},{"t":9.7,"I":41,"II":12,"III":95,"IV":133},{"t":9.8,"I":43,"II":12,"III":125,"IV":135},
{"t":9.9,"I":46,"II":13,"III":135,"IV":136},{"t":10.0,"I":52,"II":15,"III":79,"IV":138}
]
},
"resolve": {"scale": {"color": "independent", "strokeDash": "independent"}, "legend": {"color": "independent", "strokeDash": "independent"}},
"spacing": 12,
"vconcat": [
{
 "spacing": 19,
 "resolve": {"scale": {"color": "independent", "strokeDash": "independent"}, "legend": {"color": "independent", "strokeDash": "independent"}},
 "hconcat": [
 {
  "width": 273, "height": 176,
  "data": {"name": "a"},
  "transform": [{"fold": ["I","II","III","IV"], "as": ["r","v"]}],
  "title": {"text": "(a) Rotation speed of the drum is 38 r/min", "offset": 20},
  "resolve": {"axis": {"x": "independent", "y": "independent"}},
  "layer": [
   {"mark": {"type": "line", "strokeWidth": 1.2},
    "encoding": {
     "x": {"field": "t", "type": "quantitative", "scale": {"domain": [0,10]}, "axis": {"values": [0,2,4,6,8,10], "title": "Time / s"}},
     "y": {"field": "v", "type": "quantitative", "scale": {"domain": [0,600]}, "axis": {"values": [0,100,200,300,400,500,600], "title": "Number of particles"}},
     "color": {"field": "r", "type": "nominal", "scale": {"domain": ["I","II","III","IV"], "range": ["#0000ff","#1a8c1a","#ff0000","#ff00ff"]}, "legend": {"orient": "none", "legendX": 7, "legendY": 6, "direction": "horizontal", "title": null, "labelExpr": "'Region ' + datum.label"}},
     "strokeDash": {"field": "r", "type": "nominal", "scale": {"domain": ["I","II","III","IV"], "range": [[1,0],[5,4],[1.5,1.5],[7,2,1.5,2]]}, "legend": {"orient": "none", "legendX": 7, "legendY": 6, "direction": "horizontal", "title": null, "labelExpr": "'Region ' + datum.label"}}
    }},
   {"mark": {"type": "point", "opacity": 0},
    "encoding": {
     "x": {"field": "t", "type": "quantitative", "scale": {"domain": [0,10]}, "axis": {"orient": "top", "values": [0,2,4,6,8,10], "labels": false, "title": null}},
     "y": {"field": "v", "type": "quantitative", "scale": {"domain": [0,600]}, "axis": {"orient": "right", "values": [0,100,200,300,400,500,600], "labels": false, "title": null}}
    }}
  ]
 },
 {
  "width": 276, "height": 176,
  "data": {"name": "b"},
  "transform": [{"fold": ["I","II","III","IV"], "as": ["r","v"]}],
  "title": {"text": "(b) Rotation speed of the drum is 48 r/min", "offset": 20},
  "resolve": {"axis": {"x": "independent", "y": "independent"}},
  "layer": [
   {"mark": {"type": "line", "strokeWidth": 1.2},
    "encoding": {
     "x": {"field": "t", "type": "quantitative", "scale": {"domain": [0,10]}, "axis": {"values": [0,2,4,6,8,10], "title": "Time / s"}},
     "y": {"field": "v", "type": "quantitative", "scale": {"domain": [0,500]}, "axis": {"values": [0,100,200,300,400,500], "title": "Number of particles"}},
     "color": {"field": "r", "type": "nominal", "scale": {"domain": ["I","II","III","IV"], "range": ["#0000ff","#e06a2c","#2e9b2e","#ff00ff"]}, "legend": {"orient": "none", "legendX": 7, "legendY": 11, "direction": "horizontal", "title": null, "labelExpr": "'Region ' + datum.label"}},
     "strokeDash": {"field": "r", "type": "nominal", "scale": {"domain": ["I","II","III","IV"], "range": [[1,0],[5,4],[1.5,1.5],[7,2,1.5,2]]}, "legend": {"orient": "none", "legendX": 7, "legendY": 11, "direction": "horizontal", "title": null, "labelExpr": "'Region ' + datum.label"}}
    }},
   {"mark": {"type": "point", "opacity": 0},
    "encoding": {
     "x": {"field": "t", "type": "quantitative", "scale": {"domain": [0,10]}, "axis": {"orient": "top", "values": [0,2,4,6,8,10], "labels": false, "title": null}},
     "y": {"field": "v", "type": "quantitative", "scale": {"domain": [0,500]}, "axis": {"orient": "right", "values": [0,100,200,300,400,500], "labels": false, "title": null}}
    }}
  ]
 }
 ]
},
{
 "spacing": 4,
 "resolve": {"scale": {"color": "independent", "strokeDash": "independent"}, "legend": {"color": "independent", "strokeDash": "independent"}},
 "vconcat": [
 {
  "spacing": 16,
  "resolve": {"scale": {"color": "independent", "strokeDash": "independent"}, "legend": {"color": "independent", "strokeDash": "independent"}},
  "hconcat": [
  {
   "width": 281, "height": 183,
   "data": {"name": "c"},
   "transform": [{"fold": ["I","II","III","IV"], "as": ["r","v"]}],
   "title": {"text": "(c) Rotation speed of the drum is 58 r/min", "offset": 9},
   "resolve": {"axis": {"x": "independent", "y": "independent"}},
   "layer": [
    {"mark": {"type": "line", "strokeWidth": 1.2},
     "encoding": {
      "x": {"field": "t", "type": "quantitative", "scale": {"domain": [0,10]}, "axis": {"values": [0,2,4,6,8,10], "title": "Time / s"}},
      "y": {"field": "v", "type": "quantitative", "scale": {"domain": [0,500]}, "axis": {"values": [0,100,200,300,400,500], "title": "Number of particles"}},
      "color": {"field": "r", "type": "nominal", "scale": {"domain": ["I","II","III","IV"], "range": ["#0000ff","#1a8c1a","#ff0000","#ff00ff"]}, "legend": {"orient": "none", "legendX": 9, "legendY": 8, "direction": "horizontal", "title": null, "labelExpr": "'Region ' + datum.label"}},
      "strokeDash": {"field": "r", "type": "nominal", "scale": {"domain": ["I","II","III","IV"], "range": [[1,0],[5,4],[1.5,1.5],[7,2,1.5,2]]}, "legend": {"orient": "none", "legendX": 9, "legendY": 8, "direction": "horizontal", "title": null, "labelExpr": "'Region ' + datum.label"}}
     }},
    {"mark": {"type": "point", "opacity": 0},
     "encoding": {
      "x": {"field": "t", "type": "quantitative", "scale": {"domain": [0,10]}, "axis": {"orient": "top", "values": [0,2,4,6,8,10], "labels": false, "title": null}},
      "y": {"field": "v", "type": "quantitative", "scale": {"domain": [0,500]}, "axis": {"orient": "right", "values": [0,100,200,300,400,500], "labels": false, "title": null}}
     }}
   ]
  },
  {
   "width": 283, "height": 183,
   "data": {"name": "d"},
   "transform": [{"fold": ["I","II","III","IV"], "as": ["r","v"]}],
   "title": {"text": "(d) Rotation speed of the drum is 68 r/min", "offset": 9},
   "resolve": {"axis": {"x": "independent", "y": "independent"}},
   "layer": [
    {"mark": {"type": "line", "strokeWidth": 1.2},
     "encoding": {
      "x": {"field": "t", "type": "quantitative", "scale": {"domain": [0,10]}, "axis": {"values": [0,2,4,6,8,10], "title": "Time / s"}},
      "y": {"field": "v", "type": "quantitative", "scale": {"domain": [0,300]}, "axis": {"values": [0,50,100,150,200,250,300], "title": "Number of particles"}},
      "color": {"field": "r", "type": "nominal", "scale": {"domain": ["I","II","III","IV"], "range": ["#0000ff","#1a8c1a","#ff2020","#ff00ff"]}, "legend": {"orient": "none", "legendX": 17, "legendY": 5, "direction": "horizontal", "title": null, "labelExpr": "'Region ' + datum.label"}},
      "strokeDash": {"field": "r", "type": "nominal", "scale": {"domain": ["I","II","III","IV"], "range": [[1,0],[5,4],[6,4],[7,2,1.5,2]]}, "legend": {"orient": "none", "legendX": 17, "legendY": 5, "direction": "horizontal", "title": null, "labelExpr": "'Region ' + datum.label"}}
     }},
    {"mark": {"type": "point", "opacity": 0},
     "encoding": {
      "x": {"field": "t", "type": "quantitative", "scale": {"domain": [0,10]}, "axis": {"orient": "top", "values": [0,2,4,6,8,10], "labels": false, "title": null}},
      "y": {"field": "v", "type": "quantitative", "scale": {"domain": [0,300]}, "axis": {"orient": "right", "values": [0,50,100,150,200,250,300], "labels": false, "title": null}}
     }}
   ]
  }
  ]
 },
 {
  "spacing": 13,
  "resolve": {"scale": {"color": "independent", "strokeDash": "independent"}, "legend": {"color": "independent", "strokeDash": "independent"}},
  "hconcat": [
  {
   "width": 287, "height": 186,
   "data": {"name": "e"},
   "transform": [{"fold": ["I","II","III","IV"], "as": ["r","v"]}],
   "title": {"text": "(e) Rotation speed of the drum is 78 r/min", "offset": 2},
   "resolve": {"axis": {"x": "independent", "y": "independent"}},
   "layer": [
    {"mark": {"type": "line", "strokeWidth": 1.2},
     "encoding": {
      "x": {"field": "t", "type": "quantitative", "scale": {"domain": [0,10]}, "axis": {"values": [0,2,4,6,8,10], "title": "Time / s"}},
      "y": {"field": "v", "type": "quantitative", "scale": {"domain": [0,300]}, "axis": {"values": [0,50,100,150,200,250,300], "title": "Number of particles"}},
      "color": {"field": "r", "type": "nominal", "scale": {"domain": ["I","II","III","IV"], "range": ["#0000ff","#1a8c1a","#ff0000","#ff00ff"]}, "legend": {"orient": "none", "legendX": 16, "legendY": 6, "direction": "horizontal", "title": null, "labelExpr": "'Region ' + datum.label"}},
      "strokeDash": {"field": "r", "type": "nominal", "scale": {"domain": ["I","II","III","IV"], "range": [[1,0],[5,4],[1.5,1.5],[7,2,1.5,2]]}, "legend": {"orient": "none", "legendX": 16, "legendY": 6, "direction": "horizontal", "title": null, "labelExpr": "'Region ' + datum.label"}}
     }},
    {"mark": {"type": "point", "opacity": 0},
     "encoding": {
      "x": {"field": "t", "type": "quantitative", "scale": {"domain": [0,10]}, "axis": {"orient": "top", "values": [0,2,4,6,8,10], "labels": false, "title": null}},
      "y": {"field": "v", "type": "quantitative", "scale": {"domain": [0,300]}, "axis": {"orient": "right", "values": [0,50,100,150,200,250,300], "labels": false, "title": null}}
     }}
   ]
  },
  {
   "width": 286, "height": 186,
   "data": {"name": "f"},
   "transform": [{"fold": ["I","II","III","IV"], "as": ["r","v"]}],
   "title": {"text": "(f) Rotation speed of the drum is 88 r/min", "offset": 2},
   "resolve": {"axis": {"x": "independent", "y": "independent"}},
   "layer": [
    {"mark": {"type": "line", "strokeWidth": 1.2},
     "encoding": {
      "x": {"field": "t", "type": "quantitative", "scale": {"domain": [0,10]}, "axis": {"values": [0,2,4,6,8,10], "title": "Time / s"}},
      "y": {"field": "v", "type": "quantitative", "scale": {"domain": [0,300]}, "axis": {"values": [0,50,100,150,200,250,300], "title": "Number of particles"}},
      "color": {"field": "r", "type": "nominal", "scale": {"domain": ["I","II","III","IV"], "range": ["#0000ff","#1a8c1a","#ff0000","#ff00ff"]}, "legend": {"orient": "none", "legendX": 15, "legendY": 5, "direction": "horizontal", "title": null, "labelExpr": "'Region ' + datum.label"}},
      "strokeDash": {"field": "r", "type": "nominal", "scale": {"domain": ["I","II","III","IV"], "range": [[1,0],[5,4],[1.5,1.5],[7,2,1.5,2]]}, "legend": {"orient": "none", "legendX": 15, "legendY": 5, "direction": "horizontal", "title": null, "labelExpr": "'Region ' + datum.label"}}
     }},
    {"mark": {"type": "point", "opacity": 0},
     "encoding": {
      "x": {"field": "t", "type": "quantitative", "scale": {"domain": [0,10]}, "axis": {"orient": "top", "values": [0,2,4,6,8,10], "labels": false, "title": null}},
      "y": {"field": "v", "type": "quantitative", "scale": {"domain": [0,300]}, "axis": {"orient": "right", "values": [0,50,100,150,200,250,300], "labels": false, "title": null}}
     }}
   ]
  }
  ]
 }
 ]
}
]
}
